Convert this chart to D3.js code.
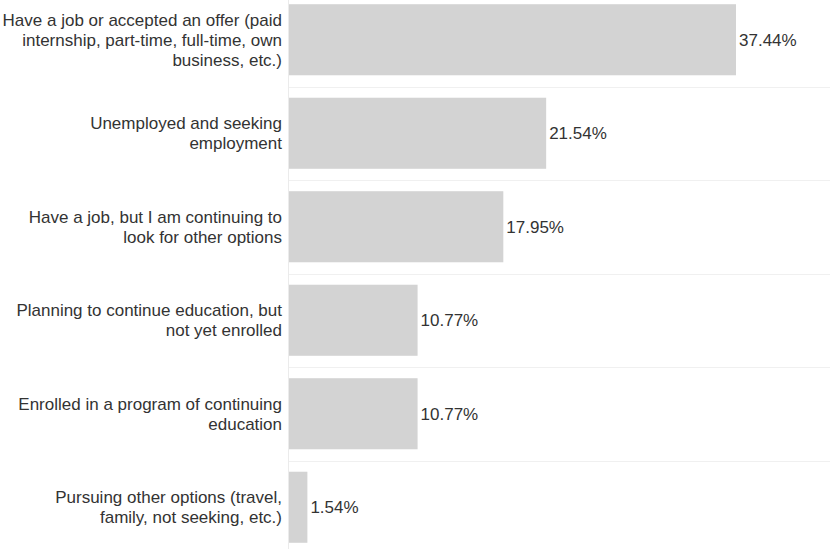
<!DOCTYPE html>
<html>
<head>
<meta charset="utf-8">
<script src="https://cdn.jsdelivr.net/npm/d3@7"></script>
<style>
  html, body { margin: 0; padding: 0; background: #fff; }
  svg { display: block; }
  text { font-family: Arial, "Liberation Sans", sans-serif; }
</style>
</head>
<body>
<svg id="chart" width="830" height="550"></svg>
<script>
const categories = [
  "Have a job or accepted an offer (paid internship, part-time, full-time, own business, etc.)",
  "Unemployed and seeking employment",
  "Have a job, but I am continuing to look for other options",
  "Planning to continue education, but not yet enrolled",
  "Enrolled in a program of continuing education",
  "Pursuing other options (travel, family, not seeking, etc.)"
];
const labelLines = [
  ["Have a job or accepted an offer (paid", "internship, part-time, full-time, own", "business, etc.)"],
  ["Unemployed and seeking", "employment"],
  ["Have a job, but I am continuing to", "look for other options"],
  ["Planning to continue education, but", "not yet enrolled"],
  ["Enrolled in a program of continuing", "education"],
  ["Pursuing other options (travel,", "family, not seeking, etc.)"]
];
const values = [37.44, 21.54, 17.95, 10.77, 10.77, 1.54];

const W = 830, H = 550;
const left = 288.5;
const svg = d3.select("#chart");

const y = d3.scaleBand()
  .domain(categories)
  .range([-7, 554])
  .paddingInner(0.24)
  .paddingOuter(0.12);

const x = d3.scaleLinear()
  .domain([0, 37.44])
  .range([left + 0.5, 736]);

// row separators
const step = y.step();
svg.append("g").selectAll("line")
  .data(categories.slice(1))
  .join("line")
  .attr("x1", left).attr("x2", W)
  .attr("y1", d => Math.round(y(d) - y.paddingInner() * step / 2) + 0.5)
  .attr("y2", d => Math.round(y(d) - y.paddingInner() * step / 2) + 0.5)
  .attr("stroke", "#f0f0f0")
  .attr("stroke-width", 1);

// axis line
svg.append("line")
  .attr("x1", left).attr("x2", left)
  .attr("y1", 0).attr("y2", 549)
  .attr("stroke", "#ebebeb")
  .attr("stroke-width", 1);

// bars
svg.append("g").selectAll("rect")
  .data(categories)
  .join("rect")
  .attr("x", x(0))
  .attr("y", d => y(d))
  .attr("width", (d, i) => x(values[i]) - x(0))
  .attr("height", y.bandwidth())
  .attr("fill", "#d3d3d3");

// value labels
svg.append("g").selectAll("text")
  .data(categories)
  .join("text")
  .attr("x", (d, i) => x(values[i]) + 3)
  .attr("y", d => y(d) + y.bandwidth() / 2)
  .attr("dy", "0.35em")
  .attr("font-size", 17)
  .attr("fill", "#333")
  .text((d, i) => values[i].toFixed(2) + "%");

// category labels
const lh = 20;
const lab = svg.append("g").selectAll("text")
  .data(categories)
  .join("text")
  .attr("text-anchor", "end")
  .attr("font-size", 17)
  .attr("fill", "#333");
lab.each(function(d, i) {
  const lines = labelLines[i];
  const cy = y(d) + y.bandwidth() / 2;
  const y0 = cy - (lines.length - 1) * lh / 2;
  d3.select(this).selectAll("tspan")
    .data(lines)
    .join("tspan")
    .attr("x", 282)
    .attr("y", (l, j) => y0 + j * lh)
    .attr("dy", "0.35em")
    .text(l => l);
});
</script>
</body>
</html>
